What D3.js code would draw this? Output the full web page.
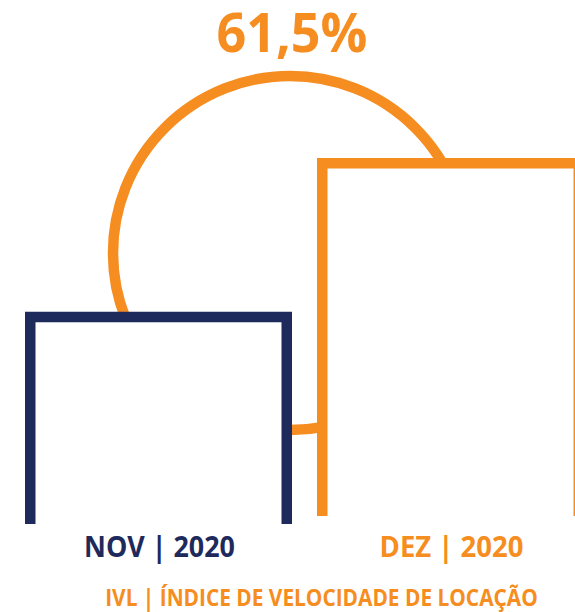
<!DOCTYPE html>
<html>
<head>
<meta charset="utf-8">
<script src="https://cdn.jsdelivr.net/npm/d3@7"></script>
<style>
  html, body { margin: 0; padding: 0; background: #ffffff; }
  svg { display: block; }
</style>
</head>
<body>
<div id="chart"></div>
<script>
// ---- data ----
const categories = ["NOV | 2020", "DEZ | 2020"];
const values = [38.1, 61.5];          // IVL (%)
const changeLabel = "61,5%";
const subtitle = "IVL | ÍNDICE DE VELOCIDADE DE LOCAÇÃO";

// ---- styles / layout ----
const W = 575, H = 612;
const navy = "#1e2a5c", orange = "#f68d20";
const colors = [navy, orange];
const sw = 10.5;
const bottoms = [524, 516];

const svg = d3.select("#chart").append("svg")
  .attr("width", W).attr("height", H);

const x = d3.scaleBand().domain(categories).range([25, 584]).paddingInner(25 / 292).paddingOuter(0);
const y = d3.scaleLinear().domain([0, 61.5]).range([562, 158]);

// decorative ring behind bars
svg.append("circle")
  .attr("cx", 290).attr("cy", 253).attr("r", 177)
  .attr("fill", "none").attr("stroke", orange).attr("stroke-width", sw);

// open-bottom bars
svg.selectAll("path.bar").data(categories).join("path")
  .attr("class", "bar")
  .attr("d", (c, i) => {
    const x0 = x(c) + sw / 2, x1 = x(c) + x.bandwidth() - sw / 2;
    const t = y(values[i]) + sw / 2, b = bottoms[i];
    return `M${x0},${b}L${x0},${t}L${x1},${t}L${x1},${b}`;
  })
  .attr("fill", "#ffffff")
  .attr("stroke", (c, i) => colors[i])
  .attr("stroke-width", sw)
  .attr("stroke-linejoin", "miter");

// helper: place centered text and squeeze horizontally to a target width
function fitText(str, cx, cy, size, width, color) {
  const t = svg.append("text")
    .attr("x", 0).attr("y", 0)
    .attr("text-anchor", "middle")
    .attr("font-family", "'Open Sans', sans-serif")
    .attr("font-weight", 700)
    .attr("font-size", size)
    .attr("fill", color)
    .text(str);
  const w = t.node().getComputedTextLength();
  const k = w > 0 ? width / w : 1;
  t.attr("transform", `translate(${cx},${cy}) scale(${k},1)`);
  return t;
}

// value label
fitText(changeLabel, 292, 52, 54, 151, orange);

// category labels
categories.forEach((c, i) => {
  fitText(c, x(c) + x.bandwidth() / 2 + 1, 557, 28, i === 0 ? 151 : 144, colors[i]);
});

// subtitle
fitText(subtitle, 321.5, 605.5, 23, 433, orange);
</script>
</body>
</html>
